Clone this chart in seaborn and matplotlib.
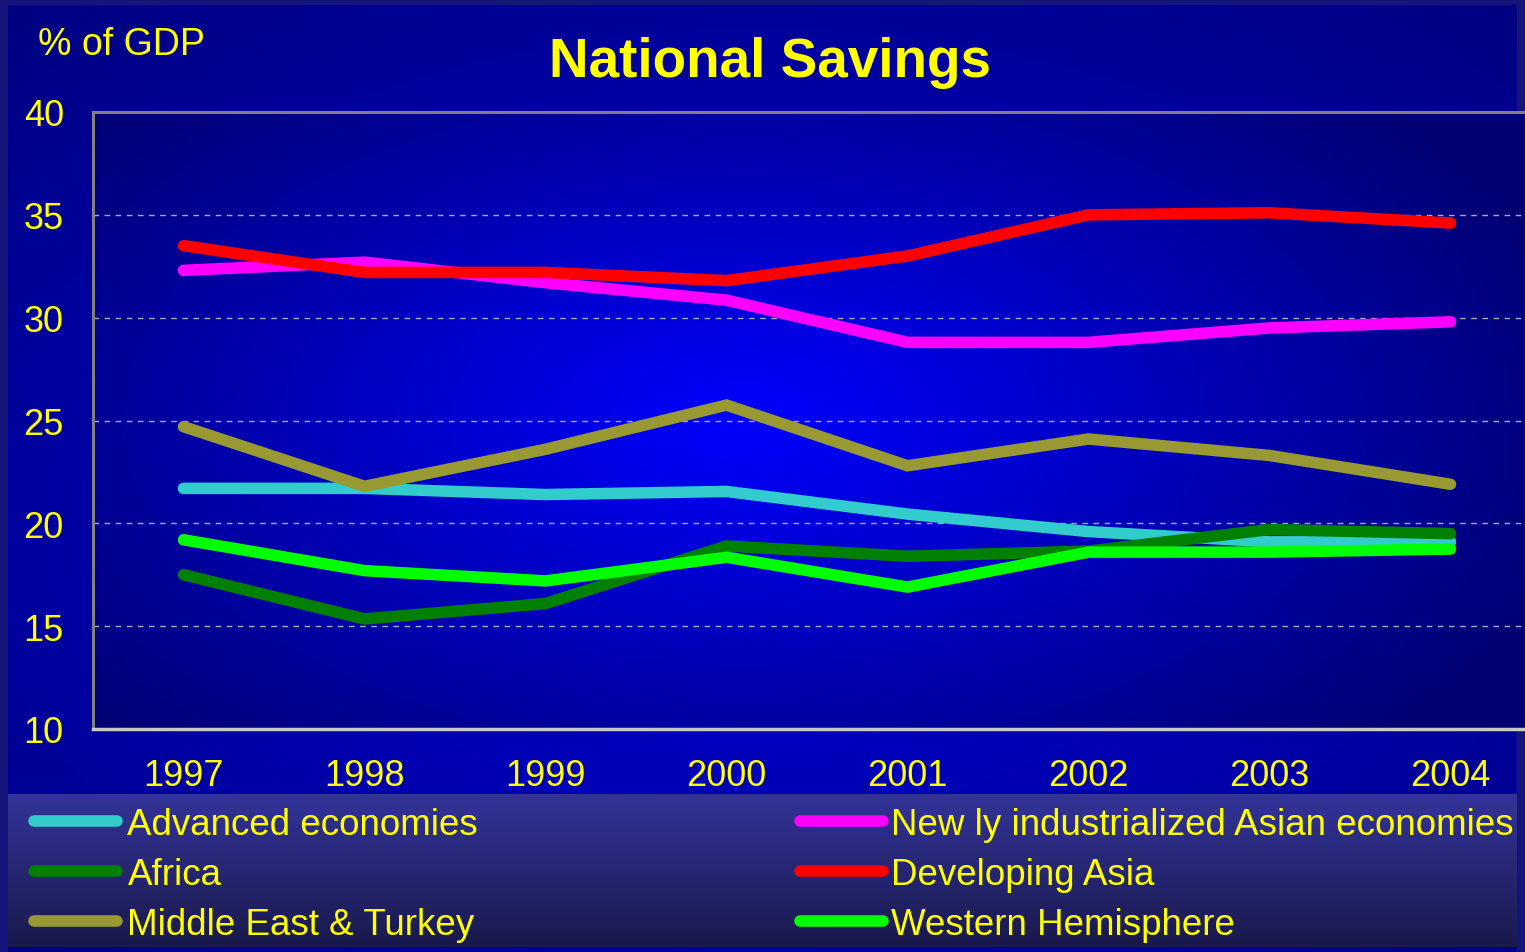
import numpy as np
import pandas as pd
import matplotlib
matplotlib.use("Agg")
import matplotlib.pyplot as plt
from matplotlib.lines import Line2D
from matplotlib.ticker import FixedLocator
import seaborn as sns

# values (% of GDP)
years = ["1997", "1998", "1999", "2000", "2001", "2002", "2003", "2004"]
advanced = [21.7, 21.7, 21.4, 21.55, 20.45, 19.6, 19.1, 19.1]
africa = [17.5, 15.35, 16.1, 18.9, 18.4, 18.65, 19.7, 19.5]
middle_east = [24.7, 21.8, 23.6, 25.75, 22.8, 24.1, 23.3, 21.9]
nie_asia = [32.3, 32.7, 31.7, 30.85, 28.8, 28.8, 29.5, 29.8]
dev_asia = [33.5, 32.2, 32.2, 31.8, 33.0, 35.0, 35.1, 34.6]
west_hem = [19.2, 17.7, 17.2, 18.35, 16.9, 18.6, 18.6, 18.75]

series_names = ["Advanced economies", "Africa", "Middle East & Turkey",
                "New ly industrialized Asian economies", "Developing Asia",
                "Western Hemisphere"]
series_values = [advanced, africa, middle_east, nie_asia, dev_asia, west_hem]
series_colors = ["#33cccc", "#008000", "#999933", "#ff00ff", "#ff0000", "#00ff00"]

df = pd.concat([pd.DataFrame({"year": years, "value": v, "region": n})
                for n, v in zip(series_names, series_values)], ignore_index=True)

sns.set_style("white")
plt.rcParams['font.family'] = ['Liberation Sans', 'DejaVu Sans']
YELLOW = "#ffff00"
LW = 8.3

W, H = 1525, 953
fig = plt.figure(figsize=(W / 100, H / 100), dpi=100, facecolor="#14147a")


def px_axes(x0, y0, x1, y1, **kw):
    # axes from pixel box (top-left origin)
    return fig.add_axes([x0 / W, 1 - y1 / H, (x1 - x0) / W, (y1 - y0) / H], **kw)


def radial(nx, ny, cx, cy, rx, ry, inner, outer):
    xx, yy = np.meshgrid(np.linspace(0, 1, nx), np.linspace(0, 1, ny))
    t = np.clip(np.sqrt(((xx - cx) / rx) ** 2 + ((yy - cy) / ry) ** 2), 0, 1)[..., None]
    return np.array(inner) * (1 - t) + np.array(outer) * t


# slide background
bg = px_axes(8, 6, 1517, 953)
bg.imshow(radial(300, 200, 0.5, 0.55, 0.75, 0.75, (0, 0, 0.85), (0, 0, 0.5)),
          aspect="auto", extent=(0, 1, 0, 1), interpolation="bilinear")
bg.set_axis_off()

# plot area gradient
pbg = px_axes(93, 113, 1541, 730)
pbg.imshow(radial(300, 200, 0.45, 0.5, 0.6, 0.75, (0, 0, 1.0), (0, 0, 0.45)),
           aspect="auto", extent=(0, 1, 0, 1), interpolation="bilinear")
pbg.set_axis_off()

# legend band
lbg = px_axes(8, 795, 1517, 948)
grad = np.linspace(0, 1, 100)[:, None, None]
band = np.array([0.2, 0.2, 0.6]) * (1 - grad) + np.array([0.1, 0.1, 0.3]) * grad
lbg.imshow(np.repeat(band, 10, axis=1), aspect="auto", extent=(0, 1, 0, 1))
lbg.set_axis_off()

ax = px_axes(93, 113, 1541, 730)
ax.set_facecolor("none")
sns.lineplot(data=df, x="year", y="value", hue="region", hue_order=series_names,
             palette=series_colors, linewidth=LW, legend=False, ax=ax,
             solid_capstyle="round", solid_joinstyle="miter", sort=False)

ax.set_xlim(-0.5, 7.5)
ax.set_ylim(10, 40)
ax.set_yticks(range(10, 41, 5))
ax.set_xticks(range(len(years)))
ax.set_xticklabels(years)
ax.xaxis.set_minor_locator(FixedLocator(np.arange(-0.5, 8, 1)))
ax.set_xlabel("")
ax.set_ylabel("")

ax.tick_params(axis="x", which="major", length=0, pad=21, labelsize=26, labelcolor=YELLOW)
ax.tick_params(axis="x", which="minor", length=8, width=1, color="white", direction="out")
ax.tick_params(axis="y", length=5, width=1.2, color="black", direction="out", pad=16,
               labelsize=26, labelcolor=YELLOW)

for y in range(15, 40, 5):
    ax.axhline(y, color="#a8a8d0", linewidth=1, linestyle=(0, (4, 4)), zorder=0.5)

for side in ["left", "top"]:
    ax.spines[side].set_color("#808080")
    ax.spines[side].set_linewidth(2.2)
ax.spines["bottom"].set_color("#c8c8c8")
ax.spines["bottom"].set_linewidth(2.5)
ax.spines["right"].set_visible(False)

fig.text(770 / W, 1 - 63 / H, "National Savings", color=YELLOW,
         fontsize=39.5, fontweight="bold", ha="center", va="center")
fig.text(38 / W, 1 - 45 / H, "% of GDP", color=YELLOW, fontsize=27, ha="left",
         va="center")

handles = [Line2D([0], [0], color=c, linewidth=LW, solid_capstyle="round")
           for c in series_colors]
for col, x0, pad in [(0, 27, 0.28), (1, 793, 0.2)]:
    leg = fig.legend(handles[col * 3:col * 3 + 3], series_names[col * 3:col * 3 + 3],
                     loc="upper left", bbox_to_anchor=(x0 / W, 1 - 801 / H),
                     frameon=False, fontsize=26.5, handlelength=2.25, handletextpad=pad,
                     labelspacing=0.4, borderaxespad=0, borderpad=0.2)
    for t in leg.get_texts():
        t.set_color(YELLOW)

fig.savefig("out.png", dpi=100, facecolor=fig.get_facecolor())
